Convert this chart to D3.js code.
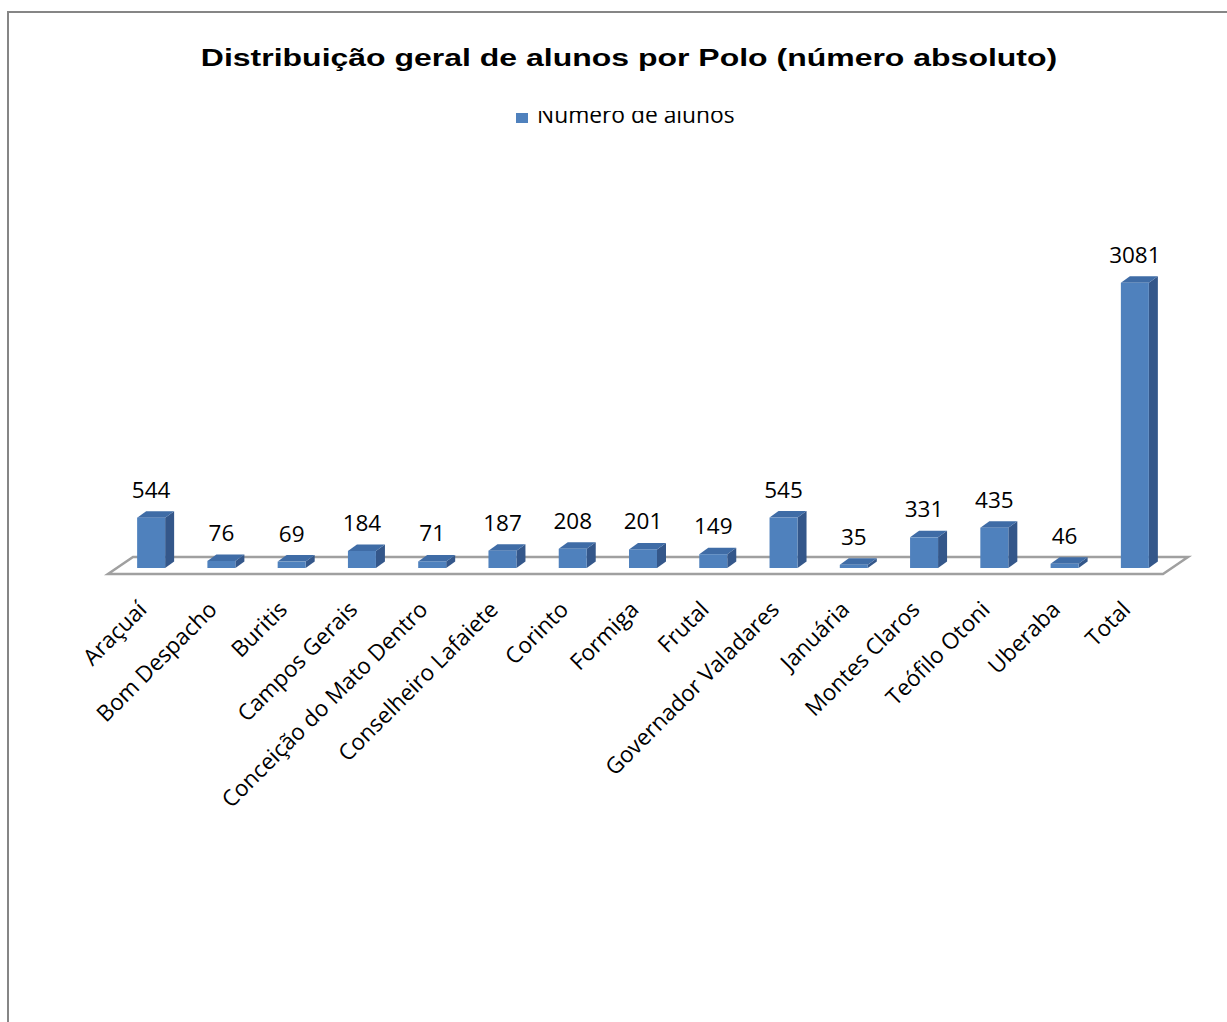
<!DOCTYPE html>
<html><head><meta charset="utf-8">
<script src="https://cdn.jsdelivr.net/npm/d3@7/dist/d3.min.js"></script>
<style>body{margin:0;background:#fff}svg{display:block}</style>
</head><body>
<script>
const categories = ["Araçuaí","Bom Despacho","Buritis","Campos Gerais","Conceição do Mato Dentro","Conselheiro Lafaiete","Corinto","Formiga","Frutal","Governador Valadares","Januária","Montes Claros","Teófilo Otoni","Uberaba","Total"];
const values = [544,76,69,184,71,187,208,201,149,545,35,331,435,46,3081];
const seriesName = "Número de alunos";
const title = "Distribuição geral de alunos por Polo (número absoluto)";

const W = 1227, H = 1022;
const svg = d3.select("body").append("svg").attr("width", W).attr("height", H);

svg.append("rect").attr("x",8).attr("y",12).attr("width",1240).attr("height",1040)
  .attr("fill","#fff").attr("stroke","#868686").attr("stroke-width",2);

svg.append("text").attr("transform","translate(629,66) scale(1.333,1)").attr("text-anchor","middle")
  .attr("font-family","Liberation Sans, Arial, sans-serif").attr("font-weight","bold")
  .attr("font-size",24).attr("fill","#000").text(title);

// legend (clipped at top as in the reference)
const clip = svg.append("defs").append("clipPath").attr("id","lc");
clip.append("rect").attr("x",400).attr("y",111).attr("width",500).attr("height",30);
const lg = svg.append("g").attr("clip-path","url(#lc)");
lg.append("rect").attr("x",516).attr("y",113).attr("width",12).attr("height",10).attr("fill","#4F81BD");
lg.append("text").attr("x",537).attr("y",123).attr("font-family","Open Sans, sans-serif")
  .attr("font-size",22.8).attr("fill","#000").text(seriesName);

const x = d3.scaleBand().domain(categories).range([116, 1170]).padding(0);
const y = d3.scaleLinear().domain([0, 3500]).range([568, 244]);
const bw = 28, dx = 9, dy = -6.5;

// floor
const fl = x.range()[0] - 8, fr = x.range()[1] - 7, fy = 574, fdx = 25, fdy = -17;
svg.append("path")
  .attr("d", `M${fl},${fy}L${fr},${fy}L${fr+fdx},${fy+fdy}L${fl+fdx},${fy+fdy}Z`)
  .attr("fill","#fff").attr("stroke","#A0A0A0").attr("stroke-width",2.5);

const g = svg.append("g");
const data = categories.map((c,i)=>({c, v: values[i]}));
const bars = g.selectAll("g.bar").data(data).join("g").attr("class","bar");
bars.each(function(d){
  const s = d3.select(this);
  const cx = x(d.c) + x.bandwidth()/2;
  const x0 = cx - bw/2, x1 = cx + bw/2, yt = y(d.v), yb = y(0);
  s.append("path").attr("d",`M${x1},${yb}L${x1+dx},${yb+dy}L${x1+dx},${yt+dy}L${x1},${yt}Z`).attr("fill","#34578A");
  s.append("path").attr("d",`M${x0},${yt}L${x0+dx},${yt+dy}L${x1+dx},${yt+dy}L${x1},${yt}Z`).attr("fill","#3F6CA6");
  s.append("rect").attr("x",x0).attr("y",yt).attr("width",bw).attr("height",yb-yt).attr("fill","#4F81BD");
  s.append("text").attr("x",cx).attr("y",yt-20).attr("text-anchor","middle")
    .attr("font-family","Open Sans, sans-serif").attr("font-size",22.5).attr("fill","#000").text(d.v);
});

// category labels
g.selectAll("text.cat").data(categories).join("text").attr("class","cat")
  .attr("transform", d => `translate(${x(d)+x.bandwidth()/2-3},${611}) rotate(-45)`)
  .attr("text-anchor","end").attr("font-family","Open Sans, sans-serif").attr("font-size",22.5)
  .attr("fill","#000").text(d=>d);
</script>
</body></html>
